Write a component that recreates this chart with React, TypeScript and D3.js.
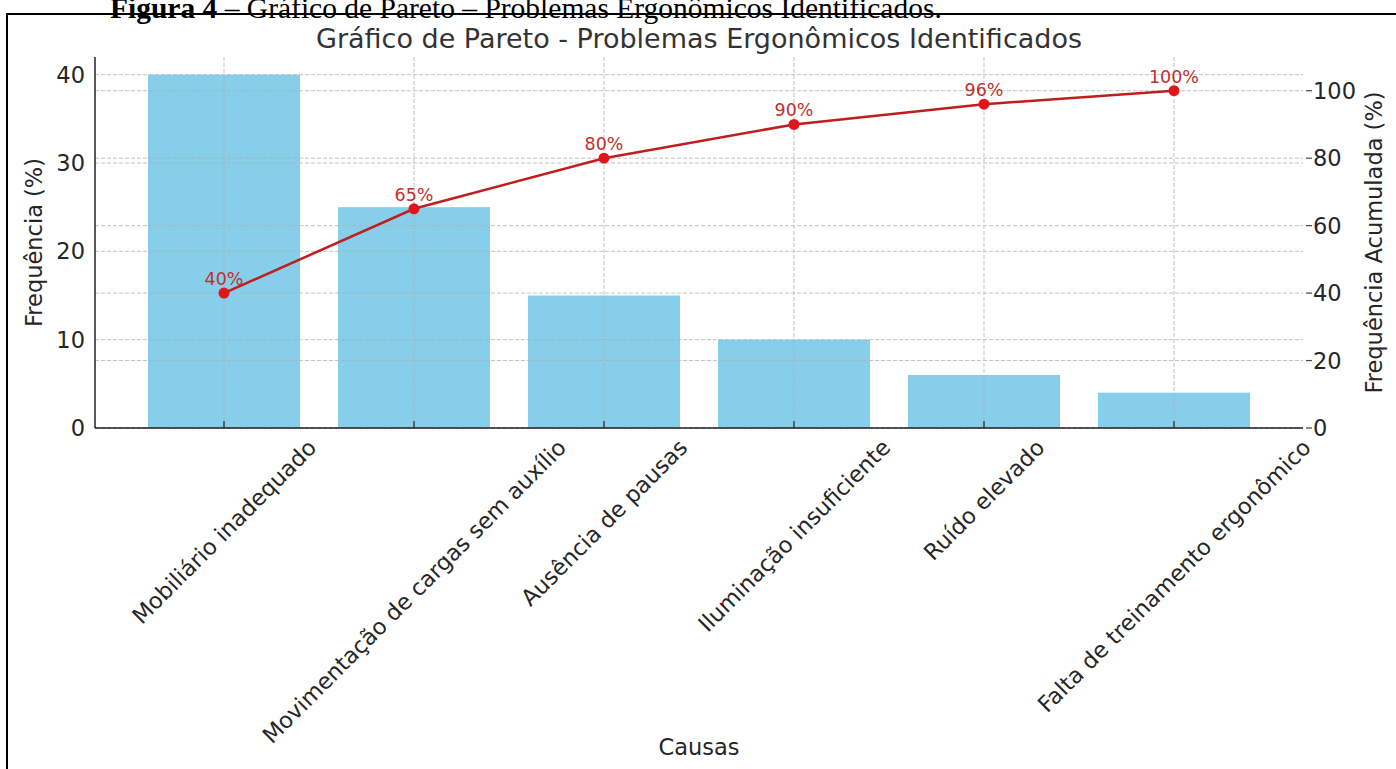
import React, { useEffect, useRef } from "react";
import * as d3 from "d3";

const categories = [
  "Mobiliário inadequado",
  "Movimentação de cargas sem auxílio",
  "Ausência de pausas",
  "Iluminação insuficiente",
  "Ruído elevado",
  "Falta de treinamento ergonômico",
];
const frequencies = [40, 25, 15, 10, 6, 4];
const cumulative = [40, 65, 80, 90, 96, 100];
const leftTicks = [0, 10, 20, 30, 40];
const rightTicks = [0, 20, 40, 60, 80, 100];

const W = 1396;
const H = 769;
const FONT = "DejaVu Sans, sans-serif";

export default function App() {
  const ref = useRef<SVGSVGElement | null>(null);

  useEffect(() => {
    const svg = d3.select(ref.current);
    svg.selectAll("*").remove();

    const X0 = 95, X1 = 1303, Y0 = 57, Y1 = 428;

    const x = d3.scaleBand<string>()
      .domain(categories)
      .range([X0, X1])
      .paddingInner(0.2)
      .paddingOuter(0.279);
    const yL = d3.scaleLinear().domain([0, 42]).range([Y1, Y0]);
    const yR = d3.scaleLinear().domain([0, 110]).range([Y1, Y0]);
    const cx = (c: string) => (x(c) as number) + x.bandwidth() / 2;

    svg.append("rect").attr("width", W).attr("height", H).attr("fill", "#fff");

    // bars
    svg.append("g").selectAll("rect").data(categories).join("rect")
      .attr("x", (c) => x(c) as number)
      .attr("width", x.bandwidth())
      .attr("y", (_c, i) => yL(frequencies[i]))
      .attr("height", (_c, i) => Y1 - yL(frequencies[i]))
      .attr("fill", "#87CEEB");

    // grid
    const grid = svg.append("g")
      .attr("stroke", "#b0b0b0")
      .attr("stroke-width", 1)
      .attr("stroke-dasharray", "4,2")
      .attr("opacity", 0.75);
    grid.selectAll("line.gl").data(leftTicks).join("line")
      .attr("class", "gl")
      .attr("x1", X0).attr("x2", X1)
      .attr("y1", (d) => yL(d)).attr("y2", (d) => yL(d));
    grid.selectAll("line.gr").data(rightTicks).join("line")
      .attr("class", "gr")
      .attr("x1", X0).attr("x2", X1)
      .attr("y1", (d) => yR(d)).attr("y2", (d) => yR(d));
    grid.selectAll("line.gv").data(categories).join("line")
      .attr("class", "gv")
      .attr("x1", (c) => cx(c)).attr("x2", (c) => cx(c))
      .attr("y1", Y0).attr("y2", Y1);

    // spines
    svg.append("line").attr("x1", X0).attr("x2", X0).attr("y1", Y0).attr("y2", Y1)
      .attr("stroke", "#222").attr("stroke-width", 1.5);
    svg.append("line").attr("x1", X0).attr("x2", X1).attr("y1", Y1).attr("y2", Y1)
      .attr("stroke", "#222").attr("stroke-width", 1.5);

    // bottom ticks (inward)
    svg.append("g").selectAll("line").data(categories).join("line")
      .attr("x1", (c) => cx(c)).attr("x2", (c) => cx(c))
      .attr("y1", Y1 - 7).attr("y2", Y1)
      .attr("stroke", "#222").attr("stroke-width", 1.2);

    // left tick labels
    svg.append("g").selectAll("text").data(leftTicks).join("text")
      .attr("x", 85).attr("y", (d) => yL(d))
      .attr("dy", "0.36em")
      .attr("text-anchor", "end")
      .attr("font-family", FONT).attr("font-size", 22.5).attr("fill", "#262626")
      .text((d) => String(d));

    // right ticks + labels
    svg.append("g").selectAll("line").data(rightTicks).join("line")
      .attr("x1", X1 + 3).attr("x2", X1 + 9)
      .attr("y1", (d) => yR(d)).attr("y2", (d) => yR(d))
      .attr("stroke", "#444").attr("stroke-width", 1.2);
    svg.append("g").selectAll("text").data(rightTicks).join("text")
      .attr("x", 1313).attr("y", (d) => yR(d))
      .attr("dy", "0.36em")
      .attr("text-anchor", "start")
      .attr("font-family", FONT).attr("font-size", 22.5).attr("fill", "#262626")
      .text((d) => String(d));

    // x tick labels rotated 45, bbox centered on tick
    const fs = 22.5;
    const h = fs * 1.17;
    const xl = svg.append("g");
    categories.forEach((c) => {
      const t = xl.append("text")
        .attr("text-anchor", "middle")
        .attr("dy", "0.36em")
        .attr("font-family", FONT).attr("font-size", fs).attr("fill", "#262626")
        .text(c);
      const L = (t.node() as SVGTextElement).getComputedTextLength();
      const half = ((L + h) * Math.SQRT1_2) / 2;
      const top = 434;
      t.attr("transform", `translate(${cx(c)},${top + half}) rotate(-45)`);
    });

    // line
    const line = d3.line<number>()
      .x((_d, i) => cx(categories[i]))
      .y((d) => yR(d));
    svg.append("path").datum(cumulative)
      .attr("d", line)
      .attr("fill", "none")
      .attr("stroke", "#c01e1e")
      .attr("stroke-width", 2.5);
    svg.append("g").selectAll("circle").data(cumulative).join("circle")
      .attr("cx", (_d, i) => cx(categories[i]))
      .attr("cy", (d) => yR(d))
      .attr("r", 5.5)
      .attr("fill", "#e0161b");
    svg.append("g").selectAll("text").data(cumulative).join("text")
      .attr("x", (_d, i) => cx(categories[i]))
      .attr("y", (d) => yR(d) - 8)
      .attr("text-anchor", "middle")
      .attr("font-family", FONT).attr("font-size", 17.5).attr("fill", "#c0302a")
      .text((d) => `${d}%`);

    // axis labels
    svg.append("text")
      .attr("transform", `translate(42,${(Y0 + Y1) / 2}) rotate(-90)`)
      .attr("text-anchor", "middle")
      .attr("font-family", FONT).attr("font-size", 22.5).attr("fill", "#262626")
      .text("Frequência (%)");
    svg.append("text")
      .attr("transform", `translate(1382,${(Y0 + Y1) / 2}) rotate(-90)`)
      .attr("text-anchor", "middle")
      .attr("font-family", FONT).attr("font-size", 22.5).attr("fill", "#262626")
      .text("Frequência Acumulada (%)");
    svg.append("text")
      .attr("x", (X0 + X1) / 2).attr("y", 755)
      .attr("text-anchor", "middle")
      .attr("font-family", FONT).attr("font-size", 22.5).attr("fill", "#262626")
      .text("Causas");

    // title
    svg.append("text")
      .attr("x", (X0 + X1) / 2).attr("y", 48)
      .attr("text-anchor", "middle")
      .attr("font-family", FONT).attr("font-size", 27).attr("fill", "#333")
      .text("Gráfico de Pareto - Problemas Ergonômicos Identificados");

    // caption
    const cap = svg.append("text")
      .attr("x", 110).attr("y", 18)
      .attr("font-family", "Liberation Serif, Times New Roman, serif")
      .attr("font-size", 29.5).attr("fill", "#000");
    cap.append("tspan").attr("font-weight", "bold").text("Figura 4");
    cap.append("tspan").text(" – Gráfico de Pareto – Problemas Ergonômicos Identificados.");

    // frame
    svg.append("path")
      .attr("d", `M1396,14 L7,14 L7,${H}`)
      .attr("fill", "none")
      .attr("stroke", "#000")
      .attr("stroke-width", 2);
  }, []);

  return (
    <svg
      ref={ref}
      width={W}
      height={H}
      style={{ position: "absolute", left: 0, top: 0, display: "block" }}
    />
  );
}
